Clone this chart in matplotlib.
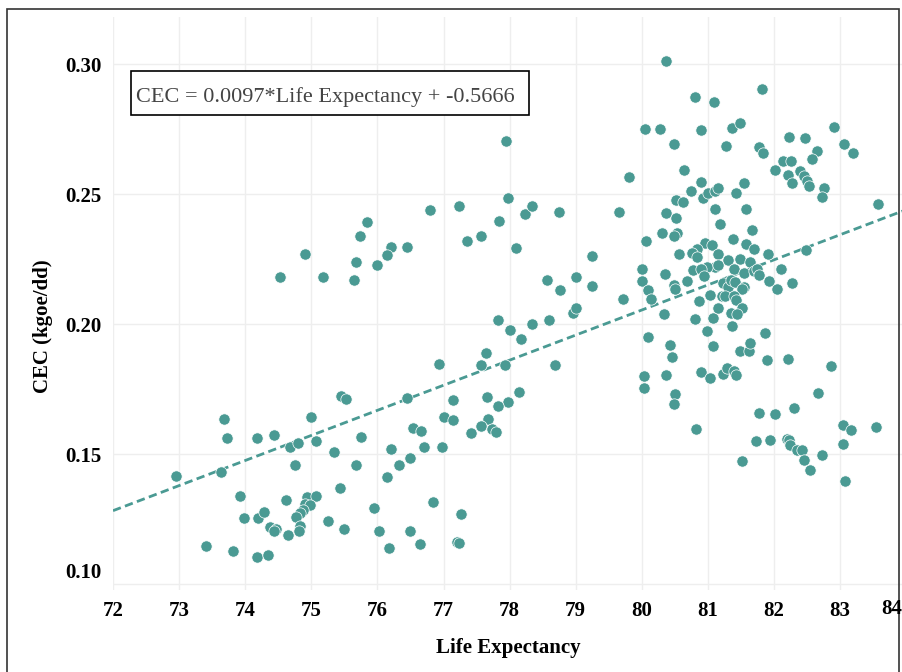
import numpy as np
import matplotlib
matplotlib.use("Agg")
from matplotlib import pyplot as plt
from matplotlib.patches import Rectangle
from matplotlib.transforms import ScaledTranslation

plt.rcParams['font.family'] = ['Liberation Serif', 'DejaVu Serif']

# life expectancy (years) and CEC (kgoe/dd)
life_exp = [
    76.80, 75.84, 75.73, 76.21, 76.15, 76.45, 74.91, 75.68, 76.00, 74.53,
    75.18, 75.64, 76.93, 75.45, 75.52, 76.45, 77.14, 73.68, 75.00, 77.00,
    77.14, 73.72, 74.18, 74.43, 74.68, 74.80, 75.07, 75.75, 76.54, 76.66,
    76.70, 76.98, 76.21, 75.34, 74.75, 75.68, 76.50, 76.32, 76.15, 72.96,
    73.64, 73.92, 74.62, 74.93, 75.07, 74.90, 74.98, 74.87, 74.83, 74.77,
    75.43, 75.95, 76.84, 73.98, 74.20, 74.29, 75.25, 74.38, 74.47, 74.43,
    74.64, 74.83, 74.81, 75.50, 76.02, 76.50, 76.64, 76.18, 73.41, 73.82,
    74.18, 74.34, 77.27, 77.20, 77.23,
    77.95, 80.05, 79.80, 77.23, 77.98, 77.84, 78.23, 78.34, 78.75, 79.66,
    77.35, 77.57, 78.09, 80.07, 79.25, 78.57, 78.76, 79.00, 79.25, 79.71,
    80.00, 80.00, 80.09, 80.14, 78.96, 79.00, 77.82, 78.00, 78.18, 78.34,
    78.59, 77.64, 77.57, 77.93, 78.68, 80.09, 80.04, 80.03, 77.66, 77.98,
    78.14, 77.82, 77.68, 77.57, 77.73, 77.80, 77.41,
    80.37, 80.80, 81.09, 81.82, 80.28, 80.89, 81.36, 81.48, 80.48, 81.27,
    81.77, 81.84, 82.23, 82.47, 82.91, 83.06, 83.20, 82.65, 82.58, 82.13,
    82.25, 82.02, 82.21, 82.27, 82.40, 82.46, 82.50, 82.53, 82.75, 82.73,
    83.57, 80.64, 80.89, 80.75, 80.52, 80.63, 80.36, 80.52, 80.93, 81.00,
    81.10, 81.15, 81.55, 81.43, 81.11, 81.57, 81.18, 80.31, 80.54, 80.49,
    81.66, 81.38, 80.95, 81.06, 80.84, 80.76, 80.84, 80.57, 81.16, 81.58,
    81.69, 81.91, 82.48, 81.30, 81.49, 81.64, 81.11, 80.98, 81.15, 80.78,
    80.89, 80.94, 81.39, 81.54, 81.69, 81.75, 82.10, 81.78, 81.93, 82.05,
    82.27, 80.35, 80.49, 80.50, 80.68, 81.23, 81.30, 81.35, 81.41, 81.54,
    81.52, 81.03, 81.21, 81.26, 81.39, 81.42, 80.87, 80.34, 80.81, 81.07,
    81.16, 81.35, 81.51, 81.44,
    80.98, 81.37, 81.86, 80.42, 80.46, 81.07, 81.49, 81.62, 81.64, 81.89,
    82.21, 82.86, 80.37, 80.50, 80.48, 80.89, 81.03, 81.23, 81.29, 81.40,
    81.43, 80.82, 81.77, 82.02, 82.30, 82.66, 81.73, 81.94, 82.19, 82.23,
    82.24, 82.35, 82.43, 82.46, 82.54, 82.73, 83.05, 83.16, 83.05, 83.07,
    83.54, 81.52,
]
cec = [
    0.2437, 0.2391, 0.2338, 0.2298, 0.2267, 0.2298, 0.2268, 0.2240, 0.2227, 0.2182,
    0.2182, 0.2171, 0.1845, 0.1724, 0.1712, 0.1717, 0.1707, 0.1636, 0.1643, 0.1643,
    0.1630, 0.1562, 0.1562, 0.1572, 0.1527, 0.1544, 0.1549, 0.1567, 0.1601, 0.1590,
    0.1527, 0.1527, 0.1520, 0.1509, 0.1456, 0.1456, 0.1486, 0.1456, 0.1410, 0.1416,
    0.1429, 0.1340, 0.1323, 0.1334, 0.1340, 0.1307, 0.1305, 0.1285, 0.1273, 0.1259,
    0.1369, 0.1294, 0.1317, 0.1253, 0.1253, 0.1276, 0.1242, 0.1219, 0.1211, 0.1202,
    0.1189, 0.1224, 0.1202, 0.1213, 0.1202, 0.1202, 0.1154, 0.1138, 0.1148, 0.1126,
    0.1103, 0.1113, 0.1270, 0.1163, 0.1159,
    0.2704, 0.2750, 0.2565, 0.2455, 0.2483, 0.2396, 0.2425, 0.2455, 0.2431, 0.2431,
    0.2321, 0.2339, 0.2291, 0.2321, 0.2263, 0.2169, 0.2130, 0.2182, 0.2146, 0.2095,
    0.2210, 0.2164, 0.2131, 0.2098, 0.2044, 0.2060, 0.2014, 0.1979, 0.1944, 0.2002,
    0.2014, 0.1887, 0.1844, 0.1844, 0.1844, 0.1951, 0.1799, 0.1753, 0.1718, 0.1700,
    0.1740, 0.1683, 0.1636, 0.1606, 0.1595, 0.1585, 0.1579,
    0.3011, 0.2872, 0.2855, 0.2906, 0.2750, 0.2745, 0.2755, 0.2772, 0.2691, 0.2686,
    0.2682, 0.2658, 0.2721, 0.2716, 0.2757, 0.2692, 0.2658, 0.2664, 0.2635, 0.2628,
    0.2628, 0.2593, 0.2572, 0.2542, 0.2589, 0.2570, 0.2551, 0.2530, 0.2525, 0.2489,
    0.2461, 0.2593, 0.2547, 0.2512, 0.2478, 0.2471, 0.2426, 0.2408, 0.2483, 0.2506,
    0.2512, 0.2524, 0.2541, 0.2503, 0.2443, 0.2443, 0.2385, 0.2350, 0.2350, 0.2337,
    0.2361, 0.2327, 0.2313, 0.2303, 0.2288, 0.2272, 0.2259, 0.2269, 0.2268, 0.2307,
    0.2290, 0.2268, 0.2285, 0.2246, 0.2250, 0.2239, 0.2219, 0.2219, 0.2229, 0.2208,
    0.2211, 0.2185, 0.2211, 0.2198, 0.2204, 0.2211, 0.2211, 0.2187, 0.2165, 0.2136,
    0.2158, 0.2194, 0.2152, 0.2136, 0.2165, 0.2159, 0.2144, 0.2169, 0.2163, 0.2144,
    0.2133, 0.2110, 0.2108, 0.2108, 0.2108, 0.2092, 0.2088, 0.2037, 0.2020, 0.2024,
    0.2061, 0.2041, 0.2060, 0.2040,
    0.1975, 0.1991, 0.1966, 0.1921, 0.1874, 0.1914, 0.1898, 0.1896, 0.1928, 0.1862,
    0.1867, 0.1839, 0.1805, 0.1729, 0.1694, 0.1816, 0.1793, 0.1808, 0.1829, 0.1821,
    0.1803, 0.1595, 0.1659, 0.1653, 0.1677, 0.1735, 0.1549, 0.1554, 0.1558, 0.1552,
    0.1536, 0.1514, 0.1517, 0.1478, 0.1438, 0.1497, 0.1613, 0.1594, 0.1537, 0.1398,
    0.1603, 0.1473,
]

# fitted line (label shows rounded coefficients)
slope = 0.00965
intercept = -0.5666
eq_text = "CEC = 0.0097*Life Expectancy + -0.5666"

x_ticks = list(range(72, 84))
y_ticks = [0.10, 0.15, 0.20, 0.25, 0.30]

teal = "#4a9a93"

fig = plt.figure(figsize=(9.03, 6.72), dpi=100)
ax = fig.add_axes([113 / 903, 82 / 672, 790 / 903, 573 / 672])

ax.scatter(life_exp, cec, s=66, color=teal, edgecolors="white", linewidths=0.5, zorder=3)

xlim = (72.0, 72 + 790 / 66.1)
ax.set_xlim(*xlim)
ax.set_ylim(0.10 - 6 / 2594, 0.30 + 47 / 2594)

line_x = np.array(xlim)
ax.plot(line_x, slope * line_x + intercept, color=teal, lw=2.0,
        dashes=(3, 1.6), zorder=2)

ax.set_xticks(x_ticks)
ax.set_xticklabels([str(v) for v in x_ticks])
ax.set_yticks(y_ticks)
ax.set_yticklabels(["%.2f" % v for v in y_ticks])
ax.tick_params(length=0, labelsize=15, pad=8)
for lab in ax.get_xticklabels() + ax.get_yticklabels():
    lab.set_fontweight("bold")
# bottom y label sits a bit higher in the reference
ylabs = ax.get_yticklabels()
ylabs[0].set_transform(ylabs[0].get_transform() + ScaledTranslation(0, 0.13, fig.dpi_scale_trans))

# last x label is pulled inside the plot edge
fig.text(892 / 903, ax.get_position().y0 - 9 / 672, "84", ha="center", va="top",
         fontsize=15, fontweight="bold")

ax.grid(True, color="#eeeeee", lw=1.0)
ax.set_axisbelow(True)
for sp in ax.spines.values():
    sp.set_visible(False)

ax.set_xlabel("Life Expectancy", fontsize=15, fontweight="bold")
ax.xaxis.set_label_coords(0.5, -0.084)
ax.set_ylabel("CEC (kgoe/dd)", fontsize=15, fontweight="bold")
ax.yaxis.set_label_coords(-0.076, 0.46)

# equation box
ax.add_patch(Rectangle((0.0224, 0.829), 0.5042, 0.0768, transform=ax.transAxes,
                       fc="white", ec="black", lw=1.2, zorder=5))
ax.text(0.0291, 0.8522, eq_text, transform=ax.transAxes, ha="left", va="baseline",
        fontsize=16, color="#444444", zorder=6)

# outer frame
fig.patches.append(Rectangle((7 / 903, -0.1), 892 / 903, 1.1 - 9 / 672,
                             transform=fig.transFigure, fill=False,
                             ec="#333333", lw=1.2))

fig.savefig("out.png", dpi=100)
